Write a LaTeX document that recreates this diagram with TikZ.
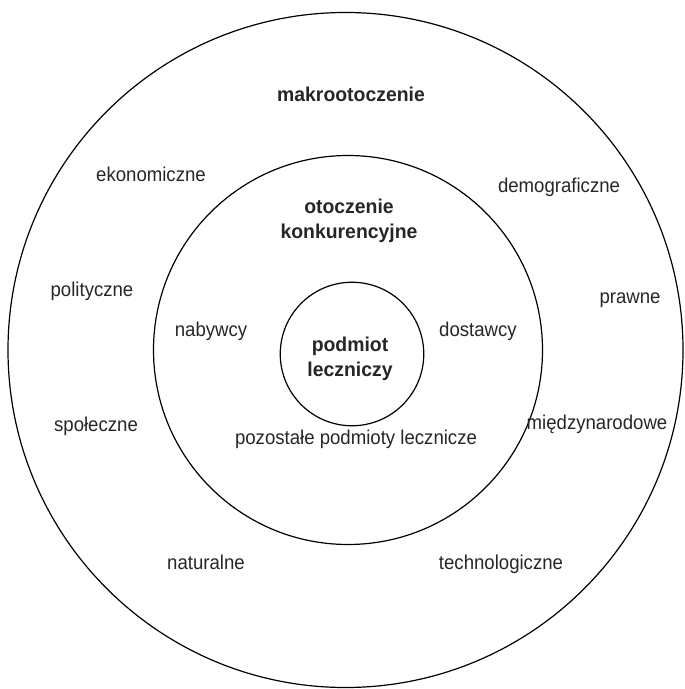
\documentclass[tikz,border=0pt]{standalone}
\usepackage{fontspec}
\setmainfont[FakeStretch=0.93,BoldFeatures={FakeStretch=0.97}]{Liberation Sans}
\tikzset{
krag/.style={circle,draw,line width=0.6pt,inner sep=0pt},
opis/.style={font=\fontsize{10}{12.5}\selectfont,text=black!85,inner sep=0pt,anchor=base},
tytul/.style={opis,font=\fontsize{10}{12.5}\selectfont\bfseries,align=center}}

\begin{document}
\begin{tikzpicture}[x=0.5pt,y=-0.5pt]

\useasboundingbox (0,0) rectangle (684,689);

\node[krag,minimum size=337.5pt] (makro) at (345.5,350) {};
\node[krag,minimum size=194.5pt] (konkur) at (348,350) {};
\node[krag,minimum size=71.75pt] (podmiot) at (352,354) {};

% napisy pogrubione (base = ostatnia linia)
\node[tytul] (tmakro) at (351,101.5) {makrootoczenie};
\node[tytul] (tkonkur) at (349,239) {otoczenie\\konkurencyjne};
\node[tytul] (tpodmiot) at (350,376) {podmiot\\leczniczy};

\node[opis] (ekon) at (151,182) {ekonomiczne};
\node[opis] (demo) at (559,193) {demograficzne};
\node[opis] (poli) at (92,296) {polityczne};
\node[opis] (prawo) at (630,303) {prawne};
\node[opis] (spol) at (96,431) {społeczne};
\node[opis] (miedzy) at (597,429) {międzynarodowe};
\node[opis] (natur) at (206,569) {naturalne};
\node[opis] (techno) at (501,569) {technologiczne};

\node[opis] (nabyw) at (211,336) {nabywcy};
\node[opis] (dostaw) at (478,336) {dostawcy};
\node[opis] (pozost) at (356,444) {pozostałe podmioty lecznicze};

\end{tikzpicture}
\end{document}
